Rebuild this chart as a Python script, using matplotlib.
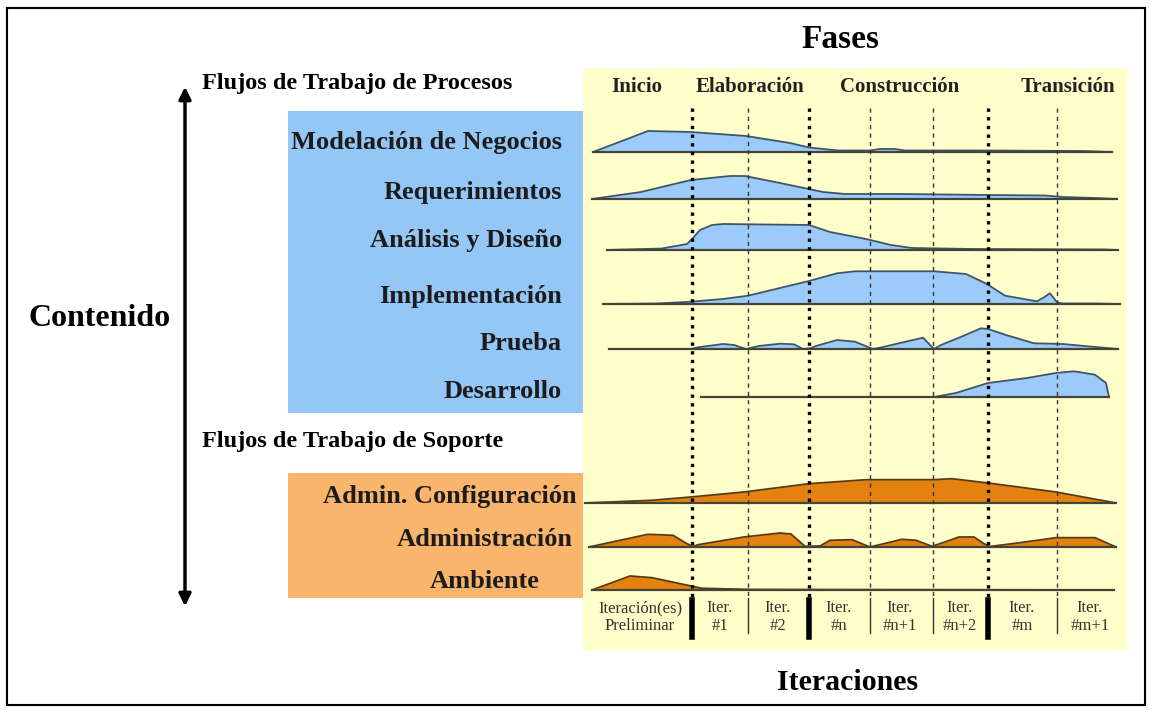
import matplotlib.pyplot as plt
from matplotlib.patches import Rectangle, FancyArrowPatch

plt.rcParams['font.family'] = ['Liberation Serif', 'DejaVu Serif']

# phases and iterations
fases = ['Inicio', 'Elaboración', 'Construcción', 'Transición']
iteraciones = ['Iteración(es)\nPreliminar', 'Iter.\n#1', 'Iter.\n#2', 'Iter.\n#n',
               'Iter.\n#n+1', 'Iter.\n#n+2', 'Iter.\n#m', 'Iter.\n#m+1']
limites_fase = [692, 809, 988]            # phase borders (time axis, px)
limites_iter = [748, 870, 933, 1057]      # iteration borders inside a phase

# process workflows: time (x) and effort (h)
modelacion_x = [593, 648, 691, 746, 790, 809, 838, 870, 880, 895, 905, 987, 1084, 1112]
modelacion_h = [0, 21, 20, 16, 9, 4.5, 1.5, 1.5, 3, 3, 1.5, 1.5, 1, 0]
requerim_x = [592, 641, 691, 730, 745, 780, 823, 845, 902, 987, 1045, 1063, 1095, 1117]
requerim_h = [0, 7, 19, 23, 23, 16, 7, 5, 5, 4, 3.5, 2, 1, 0]
analisis_x = [607, 662, 687, 693, 700, 712, 723, 809, 830, 866, 891, 912, 973, 1105, 1118]
analisis_h = [0, 1.5, 6, 12, 20, 25, 26, 25, 18, 11, 5, 2, 1, 0.5, 0]
implem_x = [603, 657, 691, 723, 748, 809, 837, 855, 934, 966, 987, 1005, 1037, 1044,
            1050, 1057, 1062, 1094, 1120]
implem_h = [0, 0.5, 2.3, 5, 8.3, 23, 30.7, 32.7, 32.7, 30, 20, 8.3, 2.7, 6.7,
            10.7, 1.7, 0.5, 0.5, 0]
prueba_x = [609, 691, 698, 723, 734, 746, 759, 780, 794, 803, 810, 816, 837, 855, 873,
            880, 913, 923, 934, 941, 959, 981, 988, 1006, 1034, 1063, 1092, 1118]
prueba_h = [0, 0, 1.7, 5, 4, 0, 3, 5.3, 4.7, 0, 0.7, 3, 9, 7.3, 0,
            1.3, 9, 11.3, 0, 4, 11.3, 20.7, 20, 14, 5.7, 5, 2.3, 0]
desarrollo_x = [701, 934, 956, 988, 1027, 1056, 1074, 1095, 1106, 1109]
desarrollo_h = [0, 0, 4, 14, 19, 24, 25.7, 22.3, 14, 0]

# support workflows
config_x = [585, 652, 691, 744, 809, 866, 934, 952, 988, 1056, 1116]
config_h = [0, 2.7, 6, 11, 19.3, 23.3, 23.3, 24.3, 20, 11, 0]
admin_x = [589, 648, 673, 687, 693, 698, 744, 780, 791, 805, 820, 830, 852, 870, 884,
           902, 916, 932, 945, 959, 974, 984, 990, 1020, 1056, 1095, 1116]
admin_h = [0, 12.7, 11.7, 3.3, 0.5, 2.3, 10, 14, 13, 0.7, 1, 6.7, 7.3, 0, 3.3,
           7.7, 6.7, 0.7, 5, 10, 10, 3.3, 0.5, 4.3, 9.3, 9.3, 0]
ambiente_x = [592, 630, 652, 691, 702, 752, 1114]
ambiente_h = [0, 14, 12.3, 4, 1.7, 0.5, 0]

procesos = ['Modelación de Negocios', 'Requerimientos', 'Análisis y Diseño',
            'Implementación', 'Prueba', 'Desarrollo']
soporte = ['Admin. Configuración', 'Administración', 'Ambiente']

AZUL, AZUL_CAJA = '#9ccbfa', '#94c6f6'
NARANJA, NARANJA_CAJA = '#e3820f', '#fab56c'
AMARILLO = '#ffffcc'

fig = plt.figure(figsize=(11.52, 7.13), dpi=100)
ax = fig.add_axes([0, 0, 1, 1])
ax.set_xlim(0, 1152)
ax.set_ylim(713, 0)
ax.axis('off')

# frame and background panels
ax.add_patch(Rectangle((7, 8), 1138, 697, fill=False, ec='black', lw=1.5))
ax.add_patch(Rectangle((583, 68), 544, 582, fc=AMARILLO, ec='none', zorder=0))
ax.add_patch(Rectangle((288, 111), 295, 302, fc=AZUL_CAJA, ec='none', zorder=0))
ax.add_patch(Rectangle((288, 473), 295, 125, fc=NARANJA_CAJA, ec='none', zorder=0))

ax.add_patch(FancyArrowPatch((185, 84), (185, 609), arrowstyle='<|-|>',
                             mutation_scale=18, lw=2.5, color='black'))
ax.text(100, 318, 'Contenido', fontsize=23, fontweight='bold', ha='center', va='center')
ax.text(840, 40, 'Fases', fontsize=24, fontweight='bold', ha='center', va='center')
ax.text(848, 682, 'Iteraciones', fontsize=21.5, fontweight='bold', ha='center', va='center')
ax.text(202, 83, 'Flujos de Trabajo de Procesos', fontsize=17.5, fontweight='bold',
        ha='left', va='center')
ax.text(202, 442, 'Flujos de Trabajo de Soporte', fontsize=17.5, fontweight='bold',
        ha='left', va='center')

for nombre, xc in zip(fases, [637, 750, 900, 1068]):
    ax.text(xc, 87, nombre, fontsize=15, fontweight='bold', ha='center', va='center',
            color='#222222')

# rows: label, x, h, baseline, label y, label x, colour
filas = [
    (procesos[0], modelacion_x, modelacion_h, 152, 143, 562, AZUL),
    (procesos[1], requerim_x, requerim_h, 199, 192, 562, AZUL),
    (procesos[2], analisis_x, analisis_h, 250, 241, 562, AZUL),
    (procesos[3], implem_x, implem_h, 304, 296, 562, AZUL),
    (procesos[4], prueba_x, prueba_h, 349, 343, 562, AZUL),
    (procesos[5], desarrollo_x, desarrollo_h, 397, 391, 562, AZUL),
    (soporte[0], config_x, config_h, 503, 496, 577, NARANJA),
    (soporte[1], admin_x, admin_h, 547, 539, 573, NARANJA),
    (soporte[2], ambiente_x, ambiente_h, 590, 581, 540, NARANJA),
]
for nombre, xs, hs, base, ty, tx, color in filas:
    top = [base - h for h in hs]
    borde = '#3d5566' if color == AZUL else '#5b3a12'
    ax.fill_between(xs, base, top, color=color, lw=0, zorder=2)
    ax.plot(xs, top, color=borde, lw=1.3, zorder=3)
    ax.plot([xs[0], xs[-1]], [base, base], color='#44443a', lw=1.6, zorder=3)
    ax.text(tx, ty, nombre, fontsize=19, fontweight='bold', ha='right', va='center',
            color='#1c1c1c')

# phase / iteration borders
for xv in limites_fase:
    ax.plot([xv, xv], [108, 598], color='black', lw=2.4, ls=(0, (1, 1.6)), zorder=4)
    ax.plot([xv, xv], [600, 637], color='black', lw=4, zorder=4)
for xv in limites_iter:
    ax.plot([xv, xv], [108, 598], color='#333333', lw=1, ls=(0, (3, 3)), zorder=4)
    ax.plot([xv, xv], [598, 633], color='#333333', lw=1, zorder=4)

for etiqueta, xc in zip(iteraciones, [640, 720, 778, 839, 900, 960, 1022, 1090]):
    ax.text(xc, 617, etiqueta, fontsize=12, ha='center', va='center', color='#333333',
            linespacing=1.15)

fig.savefig('out.png', dpi=100)
